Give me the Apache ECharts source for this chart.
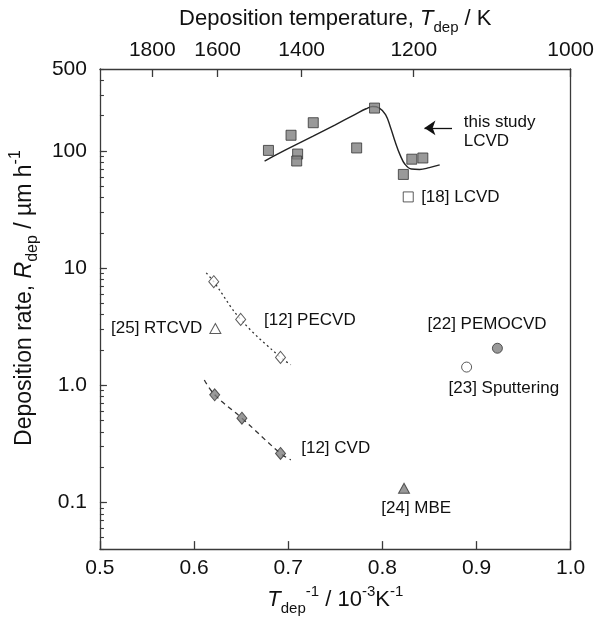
<!DOCTYPE html>
<html>
<head>
<meta charset="utf-8">
<script src="https://cdn.jsdelivr.net/npm/echarts@6/dist/echarts.min.js"></script>
<style>html,body{margin:0;padding:0;background:#fff}#c{width:597px;height:621px}</style>
</head>
<body>
<div id="c"></div>
<script>
// ---- data (x = 1/T in 10^-3 K^-1, y = deposition rate in µm/h) ----
const thisStudyPts = [[0.679,101],[0.703,136],[0.710,94],[0.709,82],[0.7266,174],[0.7727,106],[0.7917,232],[0.8223,63],[0.8313,85],[0.843,87]];
const thisStudyCurve = [[0.6749,82],[0.6983,103],[0.7259,133],[0.75,167],[0.7707,204],[0.7827,229],[0.7896,239],[0.7965,233],[0.8034,204],[0.8085,160],[0.8137,119],[0.8189,92],[0.8240,77],[0.8309,70],[0.8395,69.5],[0.8499,72],[0.8609,76]];
const lcvd18 = [[0.8275,40.5]];
const pecvd12 = [[0.6209,7.65],[0.6495,3.65],[0.6918,1.73]];
const pecvd12Fit = [[0.6129,9.1],[0.6209,7.65],[0.6495,3.65],[0.6918,1.73],[0.7028,1.50]];
const cvd12 = [[0.6219,0.83],[0.6508,0.524],[0.6918,0.262]];
const cvd12Fit = [[0.6109,1.11],[0.6219,0.83],[0.6508,0.524],[0.6918,0.262],[0.7028,0.231]];
const rtcvd25 = [[0.6226,3.05]];
const pemocvd22 = [[0.9222,2.07]];
const sputter23 = [[0.8895,1.43]];
const mbe24 = [[0.823,0.132]];

const xTicks = [0.5,0.6,0.7,0.8,0.9,1.0];
const topTempK = [1800,1600,1400,1200,1000];
const yMajor = [0.1,1,10,100,500];
const yMajorLabels = ['0.1','1.0','10','100','500'];
const yMinor = [0.04,0.05,0.06,0.07,0.08,0.09,0.2,0.3,0.4,0.5,0.6,0.7,0.8,0.9,2,3,4,5,6,7,8,9,20,30,40,50,60,70,80,90,200,300,400];

// annotation anchors (data coords)
const notes = [
  {t:'this study', at:[0.8864,174], align:'left'},
  {t:'LCVD', at:[0.8864,120], align:'left'},
  {t:'[18] LCVD', at:[0.8412,40.5], align:'left'},
  {t:'[25] RTCVD', at:[0.6088,3.05], align:'right'},
  {t:'[12] PECVD', at:[0.6743,3.6], align:'left'},
  {t:'[12] CVD', at:[0.7138,0.29], align:'left'},
  {t:'[22] PEMOCVD', at:[0.9112,3.29], align:'center'},
  {t:'[23] Sputtering', at:[0.929,0.933], align:'center'},
  {t:'[24] MBE', at:[0.836,0.0897], align:'center'}
];
const arrowFrom = [0.874,157], arrowTo = [0.8447,157];

const FONT = "'Liberation Sans', Arial, sans-serif";
const AX = '#3a3a3a', INK = '#111', GRAY = '#808080', EDGE = '#333';
function mkRich(big, small){
  return {
    n:{fontSize:big, lineHeight:big+10, color:INK, fontFamily:FONT},
    i:{fontSize:big, lineHeight:big+10, color:INK, fontStyle:'italic', fontFamily:FONT},
    s:{fontSize:small, lineHeight:small, verticalAlign:'bottom', color:INK, fontFamily:FONT},
    p:{fontSize:small, lineHeight:small, verticalAlign:'top', color:INK, fontFamily:FONT}
  };
}
const rich = mkRich(22,15);
const richY = mkRich(23,16);
const axisLine = {show:true, lineStyle:{color:AX, width:1.3}};

const chart = echarts.init(document.getElementById('c'), null, {renderer:'canvas'});
const allMinor = yMinor.concat(yMajor);
const option = {
  backgroundColor:'#fff',
  animation:false,
  textStyle:{fontFamily:FONT},
  grid:{left:88, right:25, top:69, bottom:68, containLabel:false},
  xAxis:[
    {type:'value', position:'bottom', min:0.5, max:1.0, interval:0.1,
     axisLine, splitLine:{show:false},
     axisTick:{inside:true, length:8, lineStyle:{color:AX, width:1.3}},
     axisLabel:{fontSize:21, color:INK, margin:9, fontFamily:FONT, formatter:v=>v.toFixed(1)},
     name:'{i|T}{s|dep}{p|-1}{n| / 10}{p|-3}{n|K}{p|-1}', nameLocation:'middle', nameGap:27,
     nameTextStyle:{rich}},
    {type:'value', position:'top', min:0.5, max:1.0,
     axisLine, splitLine:{show:false},
     axisTick:{inside:true, length:8, lineStyle:{color:AX, width:1.3}, customValues:topTempK.map(t=>1000/t)},
     axisLabel:{fontSize:21, color:INK, margin:8, fontFamily:FONT, customValues:topTempK.map(t=>1000/t),
       formatter:v=>String(Math.round(1000/v))},
     name:'{n|Deposition temperature, }{i|T}{s|dep}{n| / K}', nameLocation:'middle', nameGap:31,
     nameTextStyle:{rich}}
  ],
  yAxis:[
    {type:'log', logBase:10, min:0.04, max:500, position:'left',
     axisLine, splitLine:{show:false}, minorTick:{show:false},
     axisTick:{inside:true, length:4, lineStyle:{color:AX, width:1.1}, customValues:allMinor},
     axisLabel:{fontSize:21, color:INK, margin:13, fontFamily:FONT, customValues:yMajor,
       formatter:v=>{const k=yMajor.findIndex(m=>Math.abs(m-v)/m<1e-6);return k>=0?yMajorLabels[k]:'';}},
     name:'{n|Deposition rate, }{i|R}{s|dep}{n| / µm h}{p|-1}', nameLocation:'middle', nameGap:37,
     nameTextStyle:{rich:richY, padding:[0,0,0,22]}},
    {type:'log', logBase:10, min:0.04, max:500, position:'left',
     axisLine:{show:false}, splitLine:{show:false},
     axisTick:{inside:true, length:7, lineStyle:{color:AX, width:1.2}, customValues:[0.1,1,10,100]},
     axisLabel:{show:false}},
    {type:'log', logBase:10, min:0.04, max:500, position:'right',
     axisLine, splitLine:{show:false}, axisTick:{show:false}, axisLabel:{show:false}}
  ],
  series:[
    {type:'line', data:thisStudyCurve, smooth:0.4, showSymbol:false, symbol:'none',
     lineStyle:{color:'#222', width:1.4}, z:2, silent:true},
    {type:'scatter', data:thisStudyPts, symbol:'rect', symbolSize:10,
     itemStyle:{color:GRAY, borderColor:EDGE, borderWidth:1}, z:3,
     markLine:{silent:true, symbol:['none','arrow'], symbolSize:11, symbolOffset:0,
       lineStyle:{color:'#111', width:1.3, type:'solid'}, label:{show:false},
       itemStyle:{color:'#111'},
       data:[[{coord:arrowFrom},{coord:arrowTo}]]}},
    {type:'scatter', data:lcvd18, symbol:'rect', symbolSize:10,
     itemStyle:{color:'#fff', borderColor:EDGE, borderWidth:1}, z:3},
    {type:'line', data:pecvd12Fit, smooth:0.4, showSymbol:false, symbol:'none',
     lineStyle:{color:'#333', width:1.3, type:[2,3]}, z:2},
    {type:'scatter', data:pecvd12, symbol:'diamond', symbolSize:[10,12],
     itemStyle:{color:'#fff', borderColor:EDGE, borderWidth:1}, z:3},
    {type:'line', data:cvd12Fit, smooth:0.4, showSymbol:false, symbol:'none',
     lineStyle:{color:'#333', width:1.3, type:[5,4]}, z:2},
    {type:'scatter', data:cvd12, symbol:'diamond', symbolSize:[10,12],
     itemStyle:{color:GRAY, borderColor:EDGE, borderWidth:1}, z:3},
    {type:'scatter', data:rtcvd25, symbol:'triangle', symbolSize:[11,10],
     itemStyle:{color:'#fff', borderColor:EDGE, borderWidth:1}, z:3},
    {type:'scatter', data:pemocvd22, symbol:'circle', symbolSize:10,
     itemStyle:{color:GRAY, borderColor:EDGE, borderWidth:1}, z:3},
    {type:'scatter', data:sputter23, symbol:'circle', symbolSize:10,
     itemStyle:{color:'#fff', borderColor:EDGE, borderWidth:1}, z:3},
    {type:'scatter', data:mbe24, symbol:'triangle', symbolSize:[11,10],
     itemStyle:{color:GRAY, borderColor:EDGE, borderWidth:1}, z:3}
  ]
};
chart.setOption(option);
const g = notes.map(n=>{
  const p = chart.convertToPixel({xAxisIndex:0, yAxisIndex:0}, n.at);
  return {type:'text', x:p[0], y:p[1], silent:true,
    style:{text:n.t, fill:INK, font:"17px 'Liberation Sans', Arial, sans-serif",
      textAlign:n.align, textVerticalAlign:'middle'}};
});
chart.setOption({graphic:g});
</script>
</body>
</html>
